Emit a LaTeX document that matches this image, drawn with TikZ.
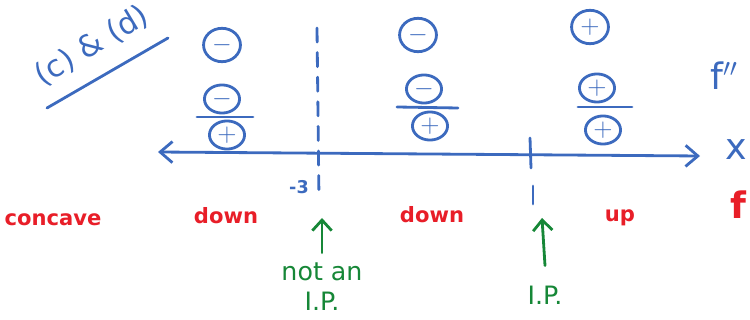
\documentclass[tikz,border=0pt]{standalone}
\usepackage{fontspec}
\setmainfont{DejaVu Sans}
\usetikzlibrary{arrows.meta,shapes.geometric}
\definecolor{pblue}{RGB}{60,106,190}
\definecolor{pred}{RGB}{232,30,40}
\definecolor{pgreen}{RGB}{22,135,55}
\tikzset{
  ink/.style={line width=1.6pt, line cap=round, line join=round},
  sgn/.style={ellipse, draw=pblue, ink, minimum width=21pt, minimum height=19pt, inner sep=0pt, text=pblue, font=\Large\bfseries},
  sgnsm/.style={sgn, minimum width=20pt, minimum height=16pt},
  bar/.style={draw=pblue, ink},
  redtxt/.style={text=pred, font=\bfseries\large},
  greentxt/.style={text=pgreen, font=\Large},
  bluetxt/.style={text=pblue, font=\large},
}
\begin{document}
\begin{tikzpicture}[x=0.02cm,y=-0.02cm]
\useasboundingbox (0,0) rectangle (750,320);
% title
\node[bluetxt, rotate=31, font=\LARGE] (title) at (92,46) {(c) \& (d)};
\draw[bar] (47,108) -- (168,38);
% axis
\coordinate (axL) at (158,152);
\coordinate (axR) at (700,156);
\draw[bar, {Straight Barb[length=7pt,width=12pt]}-{Straight Barb[length=7pt,width=12pt]}] (axL) -- (axR);
\node[bluetxt, font=\huge] (x) at (736,150) {x};
% dashed line at -3
\coordinate (d1t) at (317,28);
\coordinate (d1b) at (319,200);
\draw[bar, dash pattern=on 8pt off 6pt] (d1t) -- (d1b);
\node[bluetxt, font=\normalsize\bfseries] (m3) at (299,187) {-3};
% tick at second point
\coordinate (t2t) at (530,138);
\coordinate (t2b) at (531,168);
\draw[bar] (t2t) -- (t2b);
\coordinate (t3t) at (533,186);
\coordinate (t3b) at (533,204);
\draw[bar] (t3t) -- (t3b);
% left interval
\node[sgn] (l1) at (222,45) {$-$};
\node[sgnsm] (l2) at (222,99) {$-$};
\draw[bar] (197,117) -- (253,117);
\node[sgnsm] (l3) at (227,135) {$+$};
% middle interval
\node[sgn] (m1) at (418,35) {$-$};
\node[sgnsm] (m2) at (424,89) {$-$};
\draw[bar] (397,107) -- (458,108);
\node[sgnsm] (m3s) at (430,126) {$+$};
% right interval
\node[sgn] (r1) at (590,27) {$+$};
\node[sgnsm] (r2) at (597,88) {$+$};
\draw[bar] (578,107) -- (632,107);
\node[sgnsm] (r3) at (603,130) {$+$};
\node[bluetxt, font=\huge] (fpp) at (724,76) {f$''$};
% red labels
\node[redtxt] (conc) at (53,220) {concave};
\node[redtxt] (dn1) at (226,216) {down};
\node[redtxt] (dn2) at (432,215) {down};
\node[redtxt] (up) at (620,218) {up};
\node[redtxt, font=\huge\bfseries] (f) at (738,205) {f};
% green
\node[greentxt] (nan) at (322,272) {not an};
\node[greentxt] (ip1) at (322,301) {I.P.};
\node[greentxt] (ip2) at (545,295) {I.P.};
\coordinate (g1) at (322,218);
\coordinate (g2) at (542,218);
\draw[draw=pgreen, ink, -{Straight Barb[length=6pt,width=11pt]}] (nan.north) ++(0,-4) -- (g1);
\draw[draw=pgreen, ink, -{Straight Barb[length=6pt,width=11pt]}] (ip2.north) ++(0,-14) -- (g2);
\end{tikzpicture}
\end{document}
